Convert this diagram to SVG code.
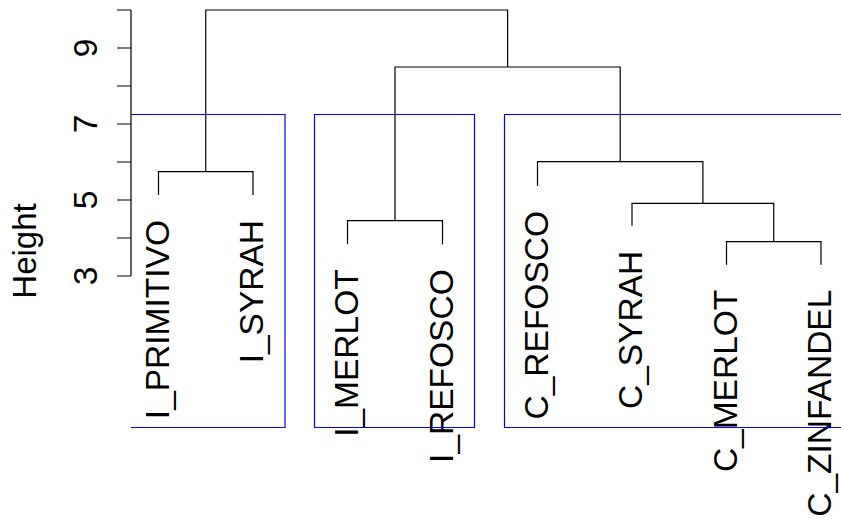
<svg xmlns="http://www.w3.org/2000/svg" width="841" height="523" viewBox="0 0 841 523">
  <style>
    text { font-family: "Liberation Sans", Arial, sans-serif; fill: #000; }
    .lbl { font-size: 33.5px; text-anchor: end; }
    .tick { font-size: 33.5px; text-anchor: middle; }
    .ylab { font-size: 33px; text-anchor: middle; }
    .link { fill: none; stroke: #000; stroke-width: 1.2; }
    .axis { fill: none; stroke: #000; stroke-width: 1.2; }
    .clus { fill: none; stroke: #0000ff; stroke-width: 1.2; }
  </style>
  <rect width="841" height="523" fill="#fff"/>

  <!-- height axis -->
  <g id="axis">
    <path class="axis" d="M131,10 V276 M117,10 H131 M117,48 H131 M117,86 H131 M117,124 H131 M117,162 H131 M117,200 H131 M117,238 H131 M117,276 H131"/>
    <text class="tick" transform="translate(97,276) rotate(-90)">3</text>
    <text class="tick" transform="translate(97,200) rotate(-90)">5</text>
    <text class="tick" transform="translate(97,124) rotate(-90)">7</text>
    <text class="tick" transform="translate(97,48) rotate(-90)">9</text>
    <text class="ylab" transform="translate(36,251) rotate(-90)">Height</text>
  </g>

  <!-- dendrogram links -->
  <g id="connectors">
    <path class="link" d="M158.5,195 V171.7 H253 V195"/>
    <path class="link" d="M347.5,244.3 V220.7 H442.5 V244.3"/>
    <path class="link" d="M726.5,264.7 V241.7 H821 V264.7"/>
    <path class="link" d="M632,225.7 V203.3 H773.75 V241.7"/>
    <path class="link" d="M537.5,186 V161.7 H702.9 V203.3"/>
    <path class="link" d="M395,220.7 V67 H620.2 V161.7"/>
    <path class="link" d="M205.75,171.7 V10 H507.6 V67"/>
  </g>

  <!-- leaves -->
  <g id="leaf-I_PRIMITIVO"><text class="lbl" transform="translate(168.5,220) rotate(-90)">I_PRIMITIVO</text></g>
  <g id="leaf-I_SYRAH"><text class="lbl" transform="translate(263,220) rotate(-90)">I_SYRAH</text></g>
  <g id="leaf-I_MERLOT"><text class="lbl" transform="translate(357.5,269.3) rotate(-90)">I_MERLOT</text></g>
  <g id="leaf-I_REFOSCO"><text class="lbl" transform="translate(452.5,269.3) rotate(-90)">I_REFOSCO</text></g>
  <g id="leaf-C_REFOSCO"><text class="lbl" transform="translate(547.5,211) rotate(-90)">C_REFOSCO</text></g>
  <g id="leaf-C_SYRAH"><text class="lbl" transform="translate(642,250.7) rotate(-90)">C_SYRAH</text></g>
  <g id="leaf-C_MERLOT"><text class="lbl" transform="translate(736.5,289.7) rotate(-90)">C_MERLOT</text></g>
  <g id="leaf-C_ZINFANDEL"><text class="lbl" transform="translate(831,289.7) rotate(-90)">C_ZINFANDEL</text></g>

  <!-- cluster boxes (clipped at the plot edges) -->
  <g id="clusters">
    <path class="clus" d="M131,114.5 H285 V427.5 H131"/>
    <path class="clus" d="M314.5,114.5 H474.5 V427.5 H314.5 Z"/>
    <path class="clus" d="M841,114.5 H504.5 V427.5 H841"/>
  </g>
</svg>
